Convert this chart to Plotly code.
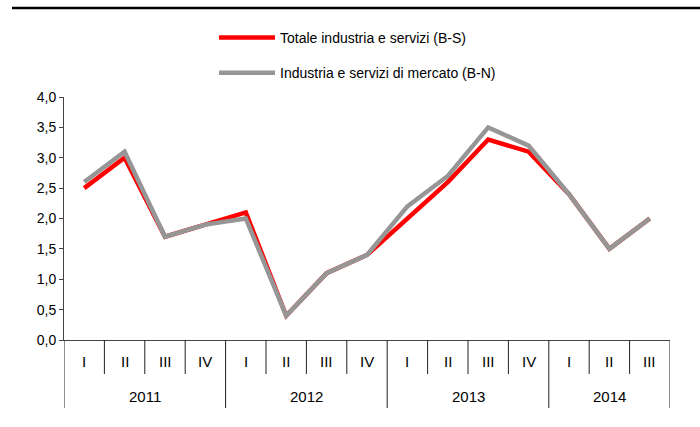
import plotly.graph_objects as go

# Dati trimestrali (variazioni %)
anni = ["2011", "2012", "2013", "2014"]
trimestri_per_anno = [4, 4, 4, 3]
etichette_trim = ["I", "II", "III", "IV", "I", "II", "III", "IV",
                  "I", "II", "III", "IV", "I", "II", "III"]
totale_bs = [2.5, 3.0, 1.7, 1.9, 2.1, 0.4, 1.1, 1.4, 2.0, 2.6, 3.3, 3.1, 2.4, 1.5, 2.0]
mercato_bn = [2.6, 3.1, 1.7, 1.9, 2.0, 0.4, 1.1, 1.4, 2.2, 2.7, 3.5, 3.2, 2.4, 1.5, 2.0]

FONT = "Liberation Sans, Arial"
ALTEZZA_PLOT = 243

x = list(range(len(etichette_trim)))

fig = go.Figure()
fig.add_trace(go.Scatter(
    x=x, y=totale_bs, mode="lines", name="Totale industria e servizi (B-S)",
    line=dict(color="#ff0000", width=4.5), legendgroup="a"
))
fig.add_trace(go.Scatter(
    x=x, y=mercato_bn, mode="lines", name="Industria e servizi di mercato (B-N)",
    line=dict(color="#969696", width=4.5), legendgroup="b"
))

shapes = []
annotations = []

# separatori dei trimestri e degli anni
confini_anno = [-0.5]
for n in trimestri_per_anno:
    confini_anno.append(confini_anno[-1] + n)
for i in range(len(etichette_trim) + 1):
    pos = i - 0.5
    lung = 68 if pos in confini_anno else 34
    shapes.append(dict(type="line", xref="x", yref="paper", x0=pos, x1=pos,
                       y0=0, y1=-lung / ALTEZZA_PLOT,
                       line=dict(color="#222222", width=1)))

for i, t in enumerate(etichette_trim):
    annotations.append(dict(x=i, y=0, xref="x", yref="paper", text=t,
                            showarrow=False, yshift=-21, yanchor="middle",
                            font=dict(family=FONT, size=15, color="#000")))

for k, anno in enumerate(anni):
    centro = (confini_anno[k] + confini_anno[k + 1]) / 2
    annotations.append(dict(x=centro, y=0, xref="x", yref="paper", text=anno,
                            showarrow=False, yshift=-56, yanchor="middle",
                            font=dict(family=FONT, size=15, color="#000")))

# linea nera in alto
shapes.append(dict(type="line", xref="paper", yref="paper",
                   x0=-52 / 606, x1=636 / 606, y0=332 / ALTEZZA_PLOT, y1=332 / ALTEZZA_PLOT,
                   line=dict(color="#000", width=2.5)))

fig.update_layout(
    width=700, height=427,
    paper_bgcolor="white", plot_bgcolor="white",
    margin=dict(l=64, r=30, t=97, b=87, autoexpand=False),
    separators=",.",
    showlegend=True,
    legend=dict(
        x=(214 - 64) / 606, xanchor="left",
        y=(340 - 22) / ALTEZZA_PLOT, yanchor="top",
        font=dict(family=FONT, size=14, color="#000"),
        tracegroupgap=14, itemwidth=56,
        bgcolor="rgba(0,0,0,0)"
    ),
    xaxis=dict(
        range=[-0.5, len(etichette_trim) - 0.5],
        showticklabels=False, ticks="", showgrid=False, zeroline=False,
        showline=True, linecolor="#444", linewidth=1
    ),
    yaxis=dict(
        range=[0, 4], dtick=0.5, tickformat=".1f",
        ticks="outside", ticklen=4, tickcolor="#444",
        showgrid=False, zeroline=False,
        showline=True, linecolor="#444", linewidth=1,
        tickfont=dict(family=FONT, size=14, color="#000")
    ),
    shapes=shapes,
    annotations=annotations,
)

# niente margine della pagina attorno al grafico
fig.write_html("out.html", config={"displayModeBar": False},
               post_script="document.body.style.margin='0';")
